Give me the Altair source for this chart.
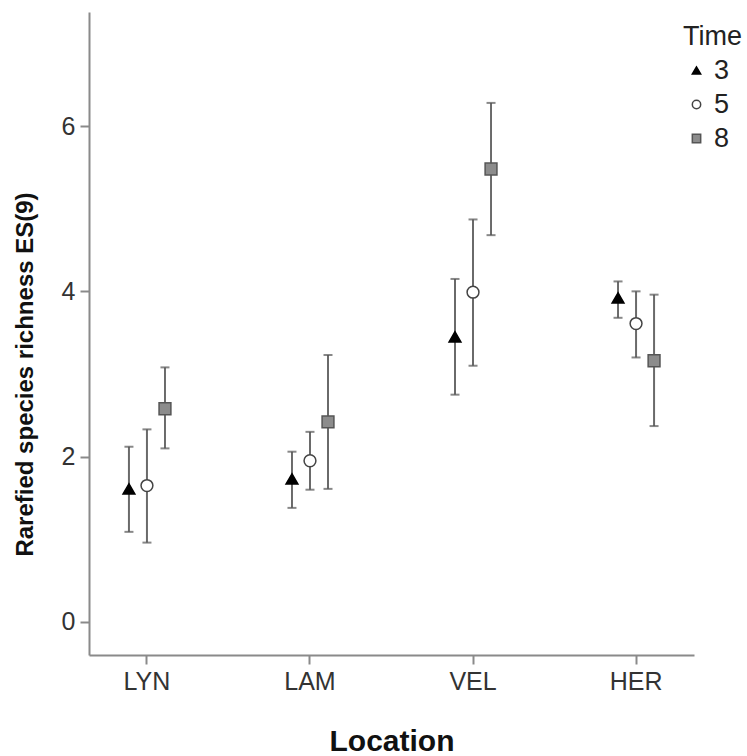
import altair as alt
import pandas as pd

locations = ["LYN", "LAM", "VEL", "HER"]
times = ["3", "5", "8"]

# mean values per location, per time (3, 5, 8)
mean_3 = [1.61, 1.73, 3.45, 3.92]
mean_5 = [1.65, 1.95, 3.99, 3.61]
mean_8 = [2.58, 2.42, 5.48, 3.16]

low_3 = [1.09, 1.38, 2.75, 3.68]
low_5 = [0.96, 1.60, 3.10, 3.20]
low_8 = [2.10, 1.61, 4.68, 2.37]

high_3 = [2.12, 2.06, 4.15, 4.12]
high_5 = [2.33, 2.30, 4.87, 4.00]
high_8 = [3.08, 3.23, 6.28, 3.96]

rows = []
for t, m, lo, hi in [("3", mean_3, low_3, high_3), ("5", mean_5, low_5, high_5), ("8", mean_8, low_8, high_8)]:
    for i, loc in enumerate(locations):
        rows.append({"Location": loc, "Time": t, "mean": m[i], "low": lo[i], "high": hi[i]})
df = pd.DataFrame(rows)

FONT = "Liberation Sans"

x_enc = alt.X("Location:N", sort=locations,
              scale=alt.Scale(paddingInner=0.779, paddingOuter=0.245),
              axis=alt.Axis(title="Location", labelAngle=0, labelFontSize=25,
                            titleFontSize=30, titleFontWeight="bold",
                            labelPadding=5, titlePadding=32))
xoff = alt.XOffset("Time:N", sort=times, scale=alt.Scale(type="point", padding=0))
y_scale = alt.Scale(domain=[-0.4, 7.38], nice=False, zero=False)

base = alt.Chart(df)

rules = base.mark_rule(color="#6a6a6a", strokeWidth=2).encode(
    x=x_enc, xOffset=xoff,
    y=alt.Y("low:Q", scale=y_scale),
    y2="high:Q",
)
caps_low = base.mark_tick(color="#555555", thickness=2, size=9, orient="horizontal").encode(
    x=x_enc, xOffset=xoff, y=alt.Y("low:Q", scale=y_scale))
caps_high = base.mark_tick(color="#555555", thickness=2, size=9, orient="horizontal").encode(
    x=x_enc, xOffset=xoff, y=alt.Y("high:Q", scale=y_scale))

legend = alt.Legend(orient="none", legendX=594, legendY=12,
                    titleFontSize=27, titleFontWeight="normal",
                    labelFontSize=27, symbolSize=70, symbolStrokeWidth=1.5,
                    rowPadding=6, titlePadding=6, labelOffset=4)

points = base.mark_point(filled=True, opacity=1, strokeWidth=1.5, size=140).encode(
    x=x_enc, xOffset=xoff,
    y=alt.Y("mean:Q", scale=y_scale,
            axis=alt.Axis(title="Rarefied species richness ES(9)", values=[0, 2, 4, 6],
                          format="d", labelFontSize=25, titleFontSize=24,
                          titleFontWeight="bold", titleY=362,
                          labelPadding=5, titlePadding=24, grid=False)),
    shape=alt.Shape("Time:N", sort=times,
                    scale=alt.Scale(domain=times, range=["triangle-up", "circle", "square"]),
                    legend=legend),
    fill=alt.Fill("Time:N", sort=times,
                  scale=alt.Scale(domain=times, range=["#000000", "#ffffff", "#8c8c8c"]),
                  legend=legend),
    stroke=alt.Stroke("Time:N", sort=times,
                      scale=alt.Scale(domain=times, range=["#000000", "#444444", "#555555"]),
                      legend=legend),
)

chart = alt.layer(rules, caps_low, caps_high, points).properties(
    width=605, height=643,
    background="white",
    autosize=alt.AutoSizeParams(type="none"),
    padding={"left": 89, "top": 12, "right": 53, "bottom": 101},
).configure_view(strokeWidth=0, stroke="transparent").configure_axis(
    domainColor="#8a8a8a", domainWidth=2, tickColor="#8a8a8a", tickWidth=2, tickSize=9,
    labelColor="#333333", titleColor="#111111", labelFont=FONT, titleFont=FONT,
).configure_legend(
    labelFont=FONT, titleFont=FONT, labelColor="#222222", titleColor="#222222",
)

chart.save("out.html", embed_options={"renderer": "svg", "actions": False})
